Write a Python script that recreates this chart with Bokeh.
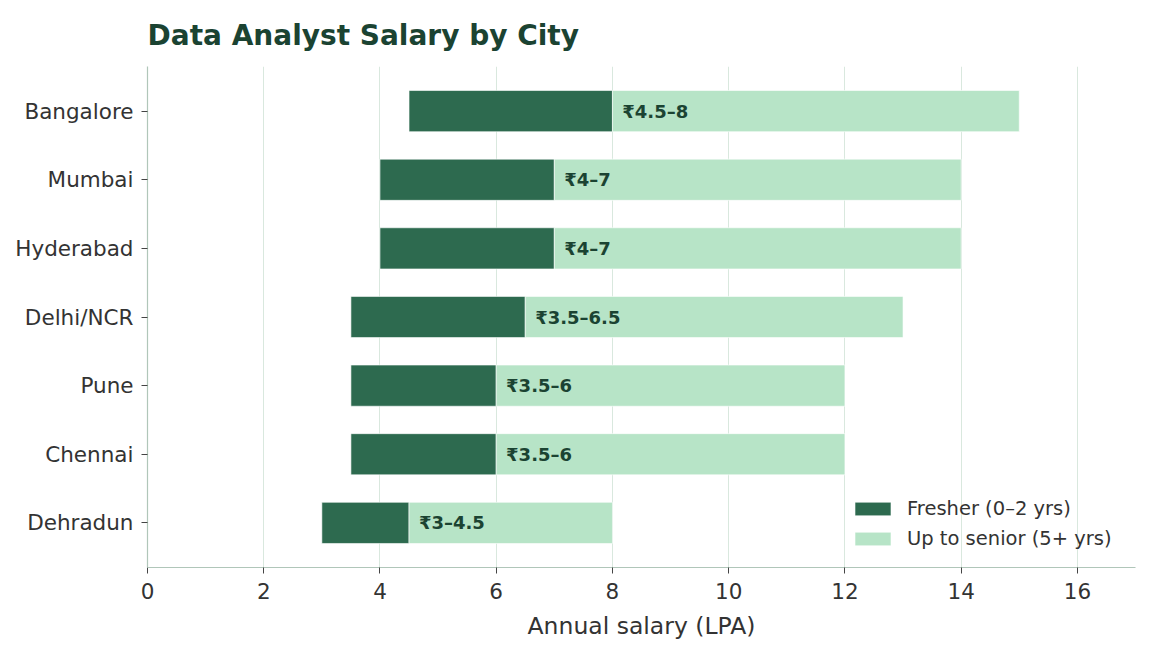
from bokeh.plotting import figure
from bokeh.models import ColumnDataSource, Range1d, FixedTicker, Legend, LegendItem
from bokeh.core.properties import value
from bokeh.embed import file_html
from bokeh.resources import INLINE

cities = ["Bangalore", "Mumbai", "Hyderabad", "Delhi/NCR", "Pune", "Chennai", "Dehradun"]
fresher_low = [4.5, 4, 4, 3.5, 3.5, 3.5, 3]
fresher_high = [8, 7, 7, 6.5, 6, 6, 4.5]
senior_max = [15, 14, 14, 13, 12, 12, 8]
range_labels = ["₹4.5–8", "₹4–7", "₹4–7", "₹3.5–6.5", "₹3.5–6", "₹3.5–6", "₹3–4.5"]
x_ticks = [0, 2, 4, 6, 8, 10, 12, 14, 16]

n = len(cities)
ypos = [n - 1 - i for i in range(n)]

src = ColumnDataSource(dict(
    y=ypos, city=cities, lo=fresher_low, hi=fresher_high, top=senior_max,
    lab=range_labels, lab_x=[h + 0.17 for h in fresher_high],
))

FONT = "DejaVu Sans"
DARK = "#2d6a4f"
LIGHT = "#b7e4c7"
TXT = "#333333"
SPINE = "#b0c6b9"

p = figure(width=1159, height=660, output_backend="svg", toolbar_location=None,
           x_range=Range1d(0, 17), y_range=Range1d(-0.65, n - 1 + 0.65),
           min_border_left=147, min_border_right=24, min_border_top=66,
           min_border_bottom=93, title="Data Analyst Salary by City")

p.title.text_font = FONT
p.title.text_font_size = "28px"
p.title.text_font_style = "bold"
p.title.text_color = "#1b4332"
p.title.align = "left"
p.title.standoff = 29

p.outline_line_color = None
p.background_fill_color = "white"
p.border_fill_color = "white"

r1 = p.hbar(y="y", left="lo", right="hi", height=0.6, source=src,
            fill_color=DARK, line_color="white", line_width=0.6)
r2 = p.hbar(y="y", left="hi", right="top", height=0.6, source=src,
            fill_color=LIGHT, line_color="white", line_width=0.6)
p.text(x="lab_x", y="y", text="lab", source=src, text_font=value(FONT),
       text_font_size="18px", text_font_style="bold", text_color="#1b4332",
       text_baseline="middle", text_align="left")

# axes
p.xaxis.ticker = FixedTicker(ticks=x_ticks)
p.xaxis.axis_label = "Annual salary (LPA)"
p.xaxis.axis_label_text_font = FONT
p.xaxis.axis_label_text_font_style = "normal"
p.xaxis.axis_label_text_font_size = "23.5px"
p.xaxis.axis_label_text_color = TXT
p.xaxis.axis_label_standoff = 10
p.xaxis.major_label_text_font = FONT
p.xaxis.major_label_text_font_size = "21.5px"
p.xaxis.major_label_text_color = TXT
p.xaxis.major_label_standoff = 9

p.yaxis.ticker = FixedTicker(ticks=ypos)
p.yaxis.major_label_overrides = {y: c for y, c in zip(ypos, cities)}
p.yaxis.major_label_text_font = FONT
p.yaxis.major_label_text_font_size = "21.5px"
p.yaxis.major_label_text_color = TXT
p.yaxis.major_label_standoff = 8

for ax in (p.xaxis, p.yaxis):
    ax.axis_line_color = SPINE
    ax.axis_line_width = 1.2
    ax.major_tick_line_color = "#444444"
    ax.major_tick_out = 6
    ax.major_tick_in = 0
    ax.minor_tick_line_color = None

p.ygrid.grid_line_color = None
p.xgrid.ticker = FixedTicker(ticks=x_ticks)
p.xgrid.grid_line_color = "#d9e8de"
p.xgrid.grid_line_width = 1

legend = Legend(items=[
    LegendItem(label="Fresher (0–2 yrs)", renderers=[r1]),
    LegendItem(label="Up to senior (5+ yrs)", renderers=[r2]),
], location=(703, 17))
legend.label_text_font = FONT
legend.label_text_font_size = "19.5px"
legend.label_text_color = TXT
legend.glyph_width = 45
legend.glyph_height = 17
legend.label_standoff = 12
legend.spacing = 7
legend.padding = 0
legend.margin = 0
legend.border_line_color = None
legend.background_fill_alpha = 0
p.add_layout(legend, "center")

open("out.html", "w").write(file_html(p, INLINE))
